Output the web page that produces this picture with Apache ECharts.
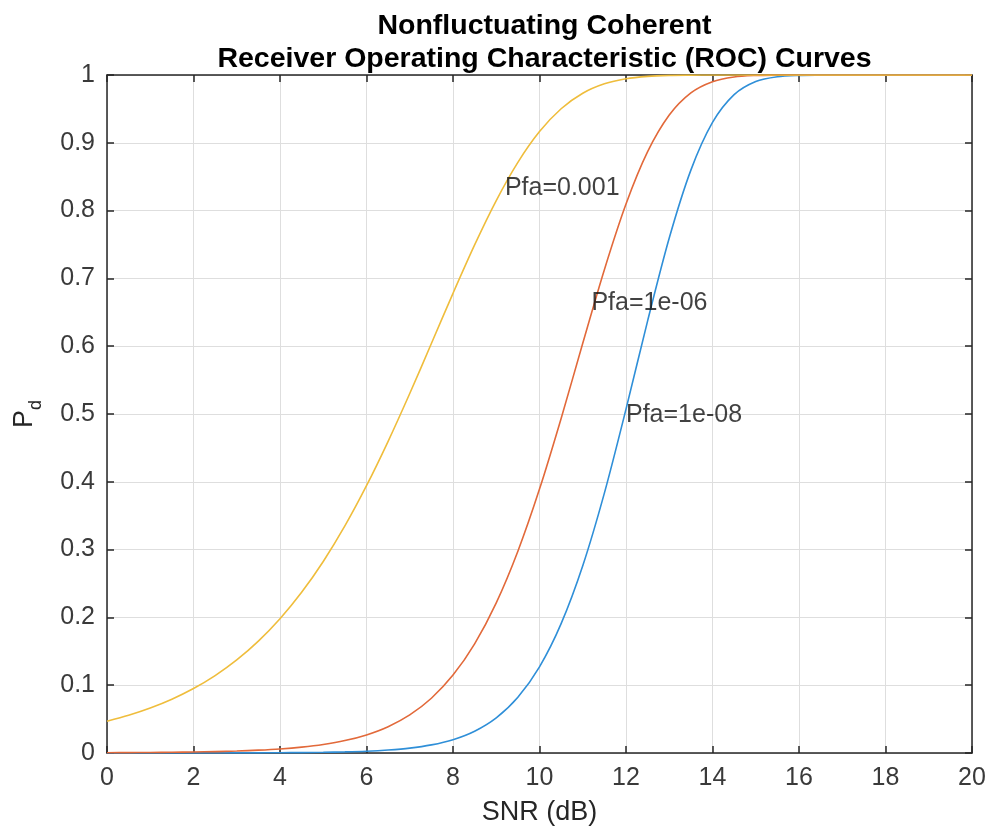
<!DOCTYPE html>
<html>
<head>
<meta charset="utf-8">
<script src="https://cdn.jsdelivr.net/npm/echarts@6/dist/echarts.min.js"></script>
<style>
html,body{margin:0;padding:0;background:#fff;}
#chart{width:990px;height:830px;}
</style>
</head>
<body>
<div id="chart"></div>
<script>
// SNR (dB) sample points
const snrDb = [0,0.5,1,1.5,2,2.5,3,3.5,4,4.5,5,5.5,6,6.5,7,7.5,8,8.5,9,9.5,10,10.5,11,11.5,12,12.5,13,13.5,14,14.5,15,15.5,16,16.5,17,17.5,18,18.5,19,19.5,20];
// Pd for Pfa = 0.001
const pdPfa1e3 = [0.0469,0.0557,0.0664,0.0794,0.0951,0.1142,0.1373,0.1650,0.1980,0.2370,0.2825,0.3349,0.3942,0.4597,0.5302,0.6039,0.6780,0.7494,0.8148,0.8711,0.9165,0.9502,0.9731,0.9870,0.9945,0.9980,0.9994,0.9998,1.0000,1,1,1,1,1,1,1,1,1,1,1,1];
// Pd for Pfa = 1e-06
const pdPfa1e6 = [0.0004,0.0006,0.0008,0.0011,0.0015,0.0021,0.0029,0.0042,0.0060,0.0087,0.0126,0.0183,0.0267,0.0388,0.0562,0.0808,0.1149,0.1610,0.2214,0.2976,0.3892,0.4935,0.6043,0.7129,0.8097,0.8869,0.9410,0.9737,0.9902,0.9971,0.9993,0.9999,1,1,1,1,1,1,1,1,1];
// Pd for Pfa = 1e-08
const pdPfa1e8 = [0.0000,0.0000,0.0000,0.0000,0.0001,0.0001,0.0002,0.0002,0.0004,0.0006,0.0010,0.0016,0.0026,0.0044,0.0072,0.0120,0.0197,0.0322,0.0519,0.0823,0.1271,0.1908,0.2762,0.3833,0.5072,0.6374,0.7596,0.8597,0.9300,0.9710,0.9904,0.9975,0.9995,0.9999,1,1,1,1,1,1,1];

const seriesNames = ['Pfa=1e-08','Pfa=1e-06','Pfa=0.001'];
// curve annotation labels (data coords)
const labelTexts = ['Pfa=0.001','Pfa=1e-06','Pfa=1e-08'];
const labelSnr = [9.2, 11.2, 12.0];
const labelPd = [0.833, 0.664, 0.4985];

const xTickLabels = ['0','2','4','6','8','10','12','14','16','18','20'];
const yTickLabels = ['0','0.1','0.2','0.3','0.4','0.5','0.6','0.7','0.8','0.9','1'];

const FONT = '"Liberation Sans", Arial, Helvetica, sans-serif';
const colors = ['#2f8fd8','#e2693a','#efbd3c'];

function pairs(ys){ return snrDb.map((x,i)=>[x, ys[i]]); }

const axisLineStyle = {color:'#262626', width:1.5};
const chart = echarts.init(document.getElementById('chart'));
const tickX = v => xTickLabels[Math.round(v/2)];
const tickY = v => yTickLabels[Math.round(v*10)];

chart.setOption({
  animation:false,
  backgroundColor:'#ffffff',
  title:{
    text:'Nonfluctuating Coherent\nReceiver Operating Characteristic (ROC) Curves',
    left:539.5, textAlign:'center', top:5,
    textStyle:{fontFamily:FONT, fontSize:28.5, fontWeight:'bold', color:'#000', lineHeight:33}
  },
  grid:{left:107, right:18, top:75, bottom:77, containLabel:false, outerBoundsMode:'none'},
  xAxis:[{
    type:'value', min:0, max:20, interval:2,
    name:'SNR (dB)', nameLocation:'middle', nameGap:46,
    nameTextStyle:{fontFamily:FONT, fontSize:27, color:'#262626'},
    axisLine:{show:true, onZero:false, lineStyle:axisLineStyle},
    axisTick:{show:true, inside:true, length:7, lineStyle:axisLineStyle},
    axisLabel:{fontFamily:FONT, fontSize:25, color:'#3a3a3a', margin:13, formatter:tickX},
    splitLine:{show:true, lineStyle:{color:'#dedede', width:1}}
  },{
    type:'value', min:0, max:20, interval:2, position:'top',
    axisLine:{show:true, onZero:false, lineStyle:axisLineStyle},
    axisTick:{show:true, inside:true, length:7, lineStyle:axisLineStyle},
    axisLabel:{show:false}, splitLine:{show:false}
  }],
  yAxis:[{
    type:'value', min:0, max:1, interval:0.1,
    name:'{p|P}{sub|d}', nameLocation:'middle', nameGap:62,
    nameTextStyle:{fontFamily:FONT, color:'#262626',
      rich:{p:{fontFamily:FONT, fontSize:27, color:'#262626', lineHeight:40, verticalAlign:'middle'},
            sub:{fontFamily:FONT, fontSize:18, color:'#262626', lineHeight:18, verticalAlign:'bottom'}}},
    axisLine:{show:true, onZero:false, lineStyle:axisLineStyle},
    axisTick:{show:true, inside:true, length:7, lineStyle:axisLineStyle},
    axisLabel:{fontFamily:FONT, fontSize:25, color:'#3a3a3a', margin:12, formatter:tickY},
    splitLine:{show:true, lineStyle:{color:'#dedede', width:1}}
  },{
    type:'value', min:0, max:1, interval:0.1, position:'right',
    axisLine:{show:true, onZero:false, lineStyle:axisLineStyle},
    axisTick:{show:true, inside:true, length:7, lineStyle:axisLineStyle},
    axisLabel:{show:false}, splitLine:{show:false}
  }],
  series:[
    {name:seriesNames[0], type:'line', data:pairs(pdPfa1e8), showSymbol:false, smooth:0.3,
     lineStyle:{color:colors[0], width:1.6}, itemStyle:{color:colors[0]}, z:3},
    {name:seriesNames[1], type:'line', data:pairs(pdPfa1e6), showSymbol:false, smooth:0.3,
     lineStyle:{color:colors[1], width:1.6}, itemStyle:{color:colors[1]}, z:4},
    {name:seriesNames[2], type:'line', data:pairs(pdPfa1e3), showSymbol:false, smooth:0.3,
     lineStyle:{color:colors[2], width:1.6}, itemStyle:{color:colors[2]}, z:5},
    {name:'labels', type:'scatter', symbolSize:0, z:10,
     data:labelTexts.map((t,i)=>({value:[labelSnr[i], labelPd[i]], name:t})),
     label:{show:true, position:'right', distance:0, formatter:p=>p.name,
            fontFamily:FONT, fontSize:25, color:'#111'}}
  ]
});
</script>
</body>
</html>
